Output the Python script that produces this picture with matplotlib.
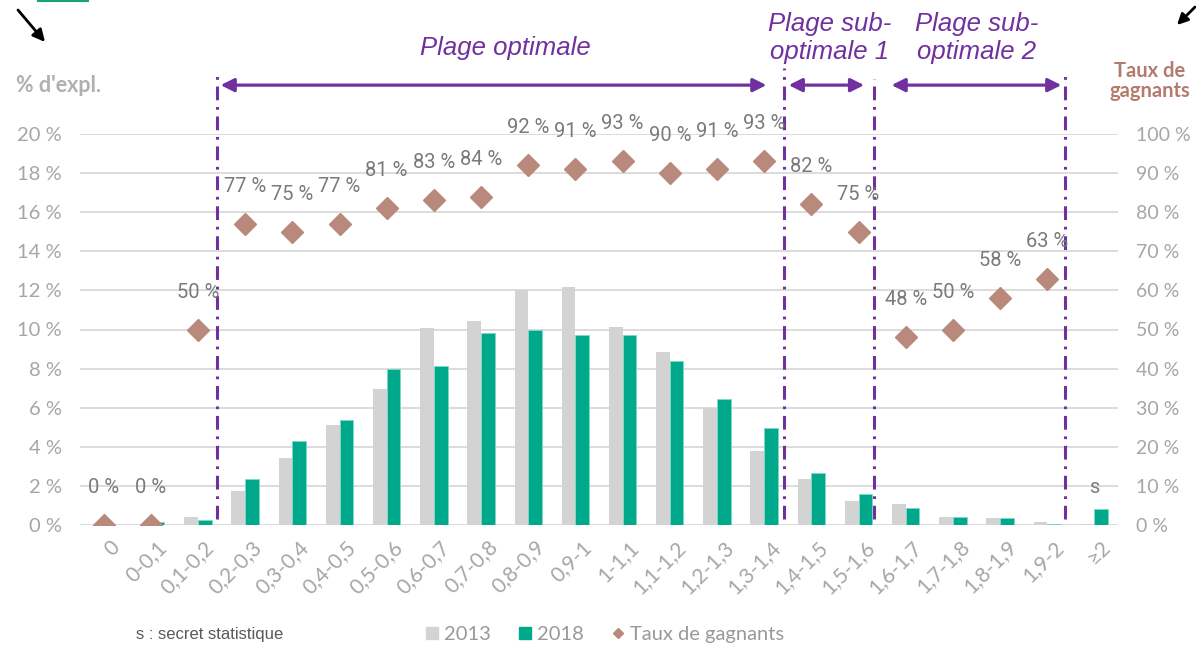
import matplotlib
matplotlib.use("Agg")
import matplotlib.pyplot as plt
import matplotlib.transforms as mtransforms
import numpy as np
from matplotlib.lines import Line2D

# ---- data ----
categories = ["0", "0-0,1", "0,1-0,2", "0,2-0,3", "0,3-0,4", "0,4-0,5", "0,5-0,6",
              "0,6-0,7", "0,7-0,8", "0,8-0,9", "0,9-1", "1-1,1", "1,1-1,2", "1,2-1,3",
              "1,3-1,4", "1,4-1,5", "1,5-1,6", "1,6-1,7", "1,7-1,8", "1,8-1,9", "1,9-2", "≥2"]
share_2013 = [0.0, 0.0, 0.43, 1.75, 3.41, 5.11, 6.97, 10.06, 10.42, 12.02, 12.19, 10.14,
              8.83, 6.0, 3.79, 2.35, 1.23, 1.06, 0.43, 0.34, 0.17, 0.07]
share_2018 = [0.0, 0.17, 0.26, 2.37, 4.31, 5.37, 7.96, 8.12, 9.8, 9.97, 9.72, 9.72,
              8.39, 6.44, 4.94, 2.64, 1.59, 0.85, 0.43, 0.34, 0.07, 0.8]
winners_rate = [0, 0, 50, 77, 75, 77, 81, 83, 84, 92, 91, 93, 90, 91, 93, 82, 75,
                48, 50, 58, 63, None]
rate_labels = ["0 %", "0 %", "50 %", "77 %", "75 %", "77 %", "81 %", "83 %", "84 %",
               "92 %", "91 %", "93 %", "90 %", "91 %", "93 %", "82 %", "75 %",
               "48 %", "50 %", "58 %", "63 %", "s"]
left_ticks = [0, 2, 4, 6, 8, 10, 12, 14, 16, 18, 20]
right_ticks = [0, 10, 20, 30, 40, 50, 60, 70, 80, 90, 100]
range_bounds = [2.4, 14.42, 16.33, 20.38]
range_names = ["Plage optimale", "Plage sub-\noptimale 1", "Plage sub-\noptimale 2"]

C_GRAY = "#d3d3d3"
C_GREEN = "#00a98c"
C_DIAM = "#b98a7c"
C_PURPLE = "#7030a0"
C_TICK = "#a6a6a6"
C_LAB = "#7a7a7a"

W, H = 1196, 645
fig = plt.figure(figsize=(W / 100, H / 100), dpi=100)
ax = fig.add_axes([80 / W, 1 - 525 / H, (1118 - 80) / W, (525 - 134) / H])

x = np.arange(len(categories))
bw = 0.29
ax.bar(x - bw / 2, share_2013, width=bw, color=C_GRAY, zorder=2)
ax.bar(x + bw / 2, share_2018, width=bw, color=C_GREEN, edgecolor="#7fd9c5",
       linewidth=0.6, zorder=2)
ax.set_xlim(-0.5, len(categories) - 0.5)
ax.set_ylim(0, 20)
ax.set_yticks(left_ticks)
ax.set_yticklabels([f"{v} %" for v in left_ticks], family="Lato", fontsize=14.5,
                   color=C_TICK)
ax.yaxis.grid(True, color="#d9d9d9", linewidth=1.3, zorder=0)
ax.set_axisbelow(True)
for s in ax.spines.values():
    s.set_visible(False)
ax.tick_params(axis="both", length=0)
ax.tick_params(axis="y", pad=13)
ax.set_xticks(x)
ax.set_xticklabels(categories, rotation=45, ha="right", va="center",
                   rotation_mode="anchor", family="Lato", fontsize=15, color=C_TICK)
off = mtransforms.ScaledTranslation(13 / 100, -14 / 100, fig.dpi_scale_trans)
for lab in ax.get_xticklabels():
    lab.set_transform(lab.get_transform() + off)

ax2 = ax.twinx()
ax2.set_ylim(0, 100)
ax2.set_yticks(right_ticks)
ax2.set_yticklabels([f"{v} %" for v in right_ticks], family="Lato", fontsize=14,
                    color=C_TICK)
ax2.tick_params(axis="y", length=0, pad=13)
for s in ax2.spines.values():
    s.set_visible(False)
xr = [i for i, v in enumerate(winners_rate) if v is not None]
yr = [winners_rate[i] for i in xr]
ax2.plot(xr, yr, linestyle="none", marker="D", markersize=11.5, color=C_DIAM, zorder=4)
for i, lab in enumerate(rate_labels):
    yv = winners_rate[i] if winners_rate[i] is not None else 0
    ax2.annotate(lab, (i, yv), xytext=(0, 27), textcoords="offset points",
                 ha="center", va="center", family="Roboto", fontweight="normal",
                 fontsize=14.5, color=C_LAB, zorder=5)

# range separators and arrows (in left-axis data coords, extending above axes)
dash = (0, (4.5, 2.2, 0.9, 2.2))
tops = [23.0, 23.4, 22.8, 23.2]
for b, t in zip(range_bounds, tops):
    ax.plot([b, b], [0.3, t], color=C_PURPLE, lw=2.2, linestyle=dash,
            clip_on=False, zorder=6)
arrow_spans = [(2.48, 14.05), (14.52, 16.12), (16.7, 20.3)]
for (a, b) in arrow_spans:
    ax.annotate("", xy=(b, 22.5), xytext=(a, 22.5), xycoords="data",
                arrowprops=dict(arrowstyle="<|-|>", color=C_PURPLE, lw=2.3,
                                mutation_scale=20, shrinkA=0, shrinkB=0),
                annotation_clip=False, zorder=6)

fig.text(505 / W, 1 - 48 / H, range_names[0], ha="center", va="center",
         family="Liberation Sans", style="italic", fontsize=18.5, color=C_PURPLE)
fig.text(830 / W, 1 - 38 / H, range_names[1], ha="center", va="center",
         family="Liberation Sans", style="italic", fontsize=18.5, color=C_PURPLE,
         linespacing=1.2)
fig.text(977 / W, 1 - 38 / H, range_names[2], ha="center", va="center",
         family="Liberation Sans", style="italic", fontsize=18.5, color=C_PURPLE,
         linespacing=1.2)

fig.text(59 / W, 1 - 85 / H, "% d'expl.", ha="center", va="center", family="Lato",
         fontweight="bold", fontsize=15.5, color="#b0b0b0")
fig.text(1150 / W, 1 - 81 / H, "Taux de\ngagnants", ha="center", va="center",
         family="Lato", fontweight="bold", fontsize=14.5, color="#b47b6c",
         linespacing=1.05)

# legend
handles = [Line2D([], [], linestyle="none", marker="s", markersize=8, color=C_GRAY),
           Line2D([], [], linestyle="none", marker="s", markersize=8, color=C_GREEN),
           Line2D([], [], linestyle="none", marker="D", markersize=5.5, color=C_DIAM)]
fig.legend(handles, ["2013", "2018", "Taux de gagnants"], loc="center",
           bbox_to_anchor=(603 / W, 1 - 634 / H), ncol=3, frameon=False,
           prop={"family": "Lato", "size": 14.5}, labelcolor="#999999",
           handletextpad=0.1, columnspacing=1.2, handlelength=1.0)
fig.text(210 / W, 1 - 635 / H, "s : secret statistique", ha="center", va="center",
         family="Liberation Sans", fontsize=12, color="#595959")

# corner marks
fig.add_artist(Line2D([38 / W, 88 / W], [1 - 1 / H, 1 - 1 / H], color="#1aa37a", lw=1.5))
ax.annotate("", xy=(45 / W, 1 - 42 / H), xytext=(18 / W, 1 - 10 / H),
            xycoords="figure fraction", textcoords="figure fraction",
            arrowprops=dict(arrowstyle="-|>", color="black", lw=2,
                            mutation_scale=18, shrinkA=0, shrinkB=0),
            annotation_clip=False)
ax.annotate("", xy=(1177 / W, 1 - 25 / H), xytext=(1195 / W, 1 - 7 / H),
            xycoords="figure fraction", textcoords="figure fraction",
            arrowprops=dict(arrowstyle="-|>", color="black", lw=2,
                            mutation_scale=16, shrinkA=0, shrinkB=0),
            annotation_clip=False)

fig.savefig("out.png", dpi=100)
